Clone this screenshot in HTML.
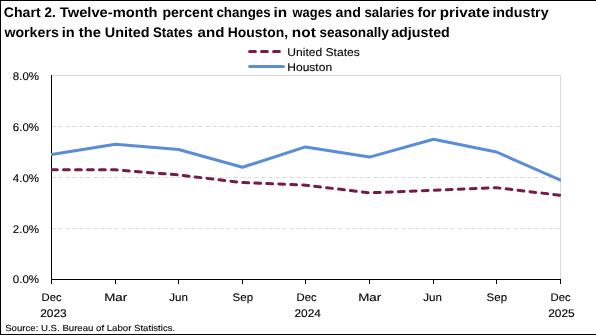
<!DOCTYPE html>
<html><head><meta charset="utf-8">
<style>
html,body{margin:0;padding:0;background:#fff;}
body{width:596px;height:335px;overflow:hidden;}
svg{display:block;will-change:transform;}
text{font-family:"Liberation Sans",sans-serif;fill:#000;text-rendering:geometricPrecision;}
</style></head>
<body>
<svg width="596" height="335" viewBox="0 0 596 335">
<rect x="0" y="0" width="596" height="335" fill="#fff"/>
<rect x="0" y="0" width="596" height="1" fill="#000"/>
<rect x="0" y="0" width="1" height="335" fill="#000"/>
<rect x="0" y="334" width="596" height="1" fill="#000"/>

<g font-size="13.9" font-weight="bold">
<text x="3.80" y="16.9" textLength="36.80" lengthAdjust="spacingAndGlyphs">Chart</text>
<text x="44.60" y="16.9" textLength="11.20" lengthAdjust="spacingAndGlyphs">2.</text>
<text x="59.80" y="16.9" textLength="97.80" lengthAdjust="spacingAndGlyphs">Twelve-month</text>
<text x="162.40" y="16.9" textLength="50.80" lengthAdjust="spacingAndGlyphs">percent</text>
<text x="216.40" y="16.9" textLength="54.40" lengthAdjust="spacingAndGlyphs">changes</text>
<text x="273.40" y="16.9" textLength="13.60" lengthAdjust="spacingAndGlyphs">in</text>
<text x="292.60" y="16.9" textLength="39.40" lengthAdjust="spacingAndGlyphs">wages</text>
<text x="335.60" y="16.9" textLength="25.20" lengthAdjust="spacingAndGlyphs">and</text>
<text x="364.40" y="16.9" textLength="49.80" lengthAdjust="spacingAndGlyphs">salaries</text>
<text x="417.40" y="16.9" textLength="19.00" lengthAdjust="spacingAndGlyphs">for</text>
<text x="439.80" y="16.9" textLength="49.80" lengthAdjust="spacingAndGlyphs">private</text>
<text x="492.40" y="16.9" textLength="56.20" lengthAdjust="spacingAndGlyphs">industry</text>
<text x="4.40" y="36.7" textLength="54.40" lengthAdjust="spacingAndGlyphs">workers</text>
<text x="61.80" y="36.7" textLength="13.00" lengthAdjust="spacingAndGlyphs">in</text>
<text x="78.80" y="36.7" textLength="22.00" lengthAdjust="spacingAndGlyphs">the</text>
<text x="104.80" y="36.7" textLength="44.80" lengthAdjust="spacingAndGlyphs">United</text>
<text x="153.00" y="36.7" textLength="39.80" lengthAdjust="spacingAndGlyphs">States</text>
<text x="197.60" y="36.7" textLength="26.80" lengthAdjust="spacingAndGlyphs">and</text>
<text x="227.80" y="36.7" textLength="60.20" lengthAdjust="spacingAndGlyphs">Houston,</text>
<text x="291.80" y="36.7" textLength="24.00" lengthAdjust="spacingAndGlyphs">not</text>
<text x="319.40" y="36.7" textLength="69.40" lengthAdjust="spacingAndGlyphs">seasonally</text>
<text x="391.20" y="36.7" textLength="58.60" lengthAdjust="spacingAndGlyphs">adjusted</text>
</g>

<line x1="249.6" y1="51.5" x2="279.5" y2="51.5" stroke="#771c48" stroke-width="3" stroke-linecap="round" stroke-dasharray="5.8 6.2"/>
<text x="287.3" y="55.8" font-size="11.3" stroke="#000" stroke-width="0.1" textLength="72.5" lengthAdjust="spacingAndGlyphs">United States</text>
<line x1="249.6" y1="66.5" x2="283.4" y2="66.5" stroke="#5b8dd6" stroke-width="3" stroke-linecap="round"/>
<text x="287.3" y="70.7" font-size="11.3" stroke="#000" stroke-width="0.1" textLength="44.8" lengthAdjust="spacingAndGlyphs">Houston</text>

<rect x="51" y="75" width="510" height="1" fill="#d9d9d9"/>
<g stroke="#d9d9d9" stroke-width="1" stroke-dasharray="4 3">
<line x1="51.5" y1="126.5" x2="560" y2="126.5"/>
<line x1="51.5" y1="177.5" x2="560" y2="177.5"/>
<line x1="51.5" y1="228.5" x2="560" y2="228.5"/>
</g>
<rect x="560" y="75" width="1" height="204" fill="#d9d9d9"/>


<rect x="51" y="75" width="1" height="209" fill="#000"/>
<rect x="51" y="279" width="510" height="1" fill="#000"/>
<g fill="#000">
<rect x="115" y="279" width="1" height="5"/>
<rect x="178" y="279" width="1" height="5"/>
<rect x="242" y="279" width="1" height="5"/>
<rect x="305" y="279" width="1" height="5"/>
<rect x="369" y="279" width="1" height="5"/>
<rect x="433" y="279" width="1" height="5"/>
<rect x="496" y="279" width="1" height="5"/>
<rect x="560" y="279" width="1" height="5"/>
</g>

<clipPath id="pa"><rect x="51" y="60" width="510" height="230"/></clipPath>
<g clip-path="url(#pa)">
<polyline fill="none" stroke="#5b8dd6" stroke-width="3" stroke-linejoin="round" stroke-linecap="round" points="51.5,154.55 115.5,144.35 178.5,149.45 242.5,167.30 305.5,146.90 369.5,157.10 433.5,139.25 496.5,152.00 560.5,180.05"/>
<polyline fill="none" stroke="#771c48" stroke-width="3" stroke-linejoin="round" stroke-linecap="round" stroke-dasharray="5.8 6.2" points="51.5,169.85 115.5,169.85 178.5,174.95 242.5,182.60 305.5,185.15 369.5,192.80 433.5,190.25 496.5,187.70 560.5,195.35"/>
</g>

<g font-size="11.2" stroke="#000" stroke-width="0.12">
<text x="12.8" y="80" textLength="26.3" lengthAdjust="spacingAndGlyphs">8.0%</text>
<text x="12.8" y="131" textLength="26.3" lengthAdjust="spacingAndGlyphs">6.0%</text>
<text x="12.8" y="182" textLength="26.3" lengthAdjust="spacingAndGlyphs">4.0%</text>
<text x="12.8" y="232.5" textLength="26.3" lengthAdjust="spacingAndGlyphs">2.0%</text>
<text x="12.8" y="283.4" textLength="26.3" lengthAdjust="spacingAndGlyphs">0.0%</text>
</g>

<g font-size="11" text-anchor="middle" stroke="#000" stroke-width="0.12">
<text x="51.55" y="300.9" textLength="20" lengthAdjust="spacingAndGlyphs">Dec</text>
<text x="115.7" y="300.9" textLength="23" lengthAdjust="spacingAndGlyphs">Mar</text>
<text x="178.55" y="300.9" textLength="18.7" lengthAdjust="spacingAndGlyphs">Jun</text>
<text x="242.8" y="300.9" textLength="20.5" lengthAdjust="spacingAndGlyphs">Sep</text>
<text x="306.55" y="300.9" textLength="20" lengthAdjust="spacingAndGlyphs">Dec</text>
<text x="369.7" y="300.9" textLength="23" lengthAdjust="spacingAndGlyphs">Mar</text>
<text x="432.55" y="300.9" textLength="18.7" lengthAdjust="spacingAndGlyphs">Jun</text>
<text x="496.8" y="300.9" textLength="20.5" lengthAdjust="spacingAndGlyphs">Sep</text>
<text x="560.55" y="300.9" textLength="20" lengthAdjust="spacingAndGlyphs">Dec</text>
<text x="53.45" y="316.8" textLength="26.5" lengthAdjust="spacingAndGlyphs">2023</text>
<text x="307.65" y="316.8" textLength="26.5" lengthAdjust="spacingAndGlyphs">2024</text>
<text x="561.45" y="316.8" textLength="26.5" lengthAdjust="spacingAndGlyphs">2025</text>
</g>

<text x="5.2" y="330.8" font-size="8.8" stroke="#000" stroke-width="0.1" textLength="170" lengthAdjust="spacingAndGlyphs">Source: U.S. Bureau of Labor Statistics.</text>
</svg>
</body></html>
